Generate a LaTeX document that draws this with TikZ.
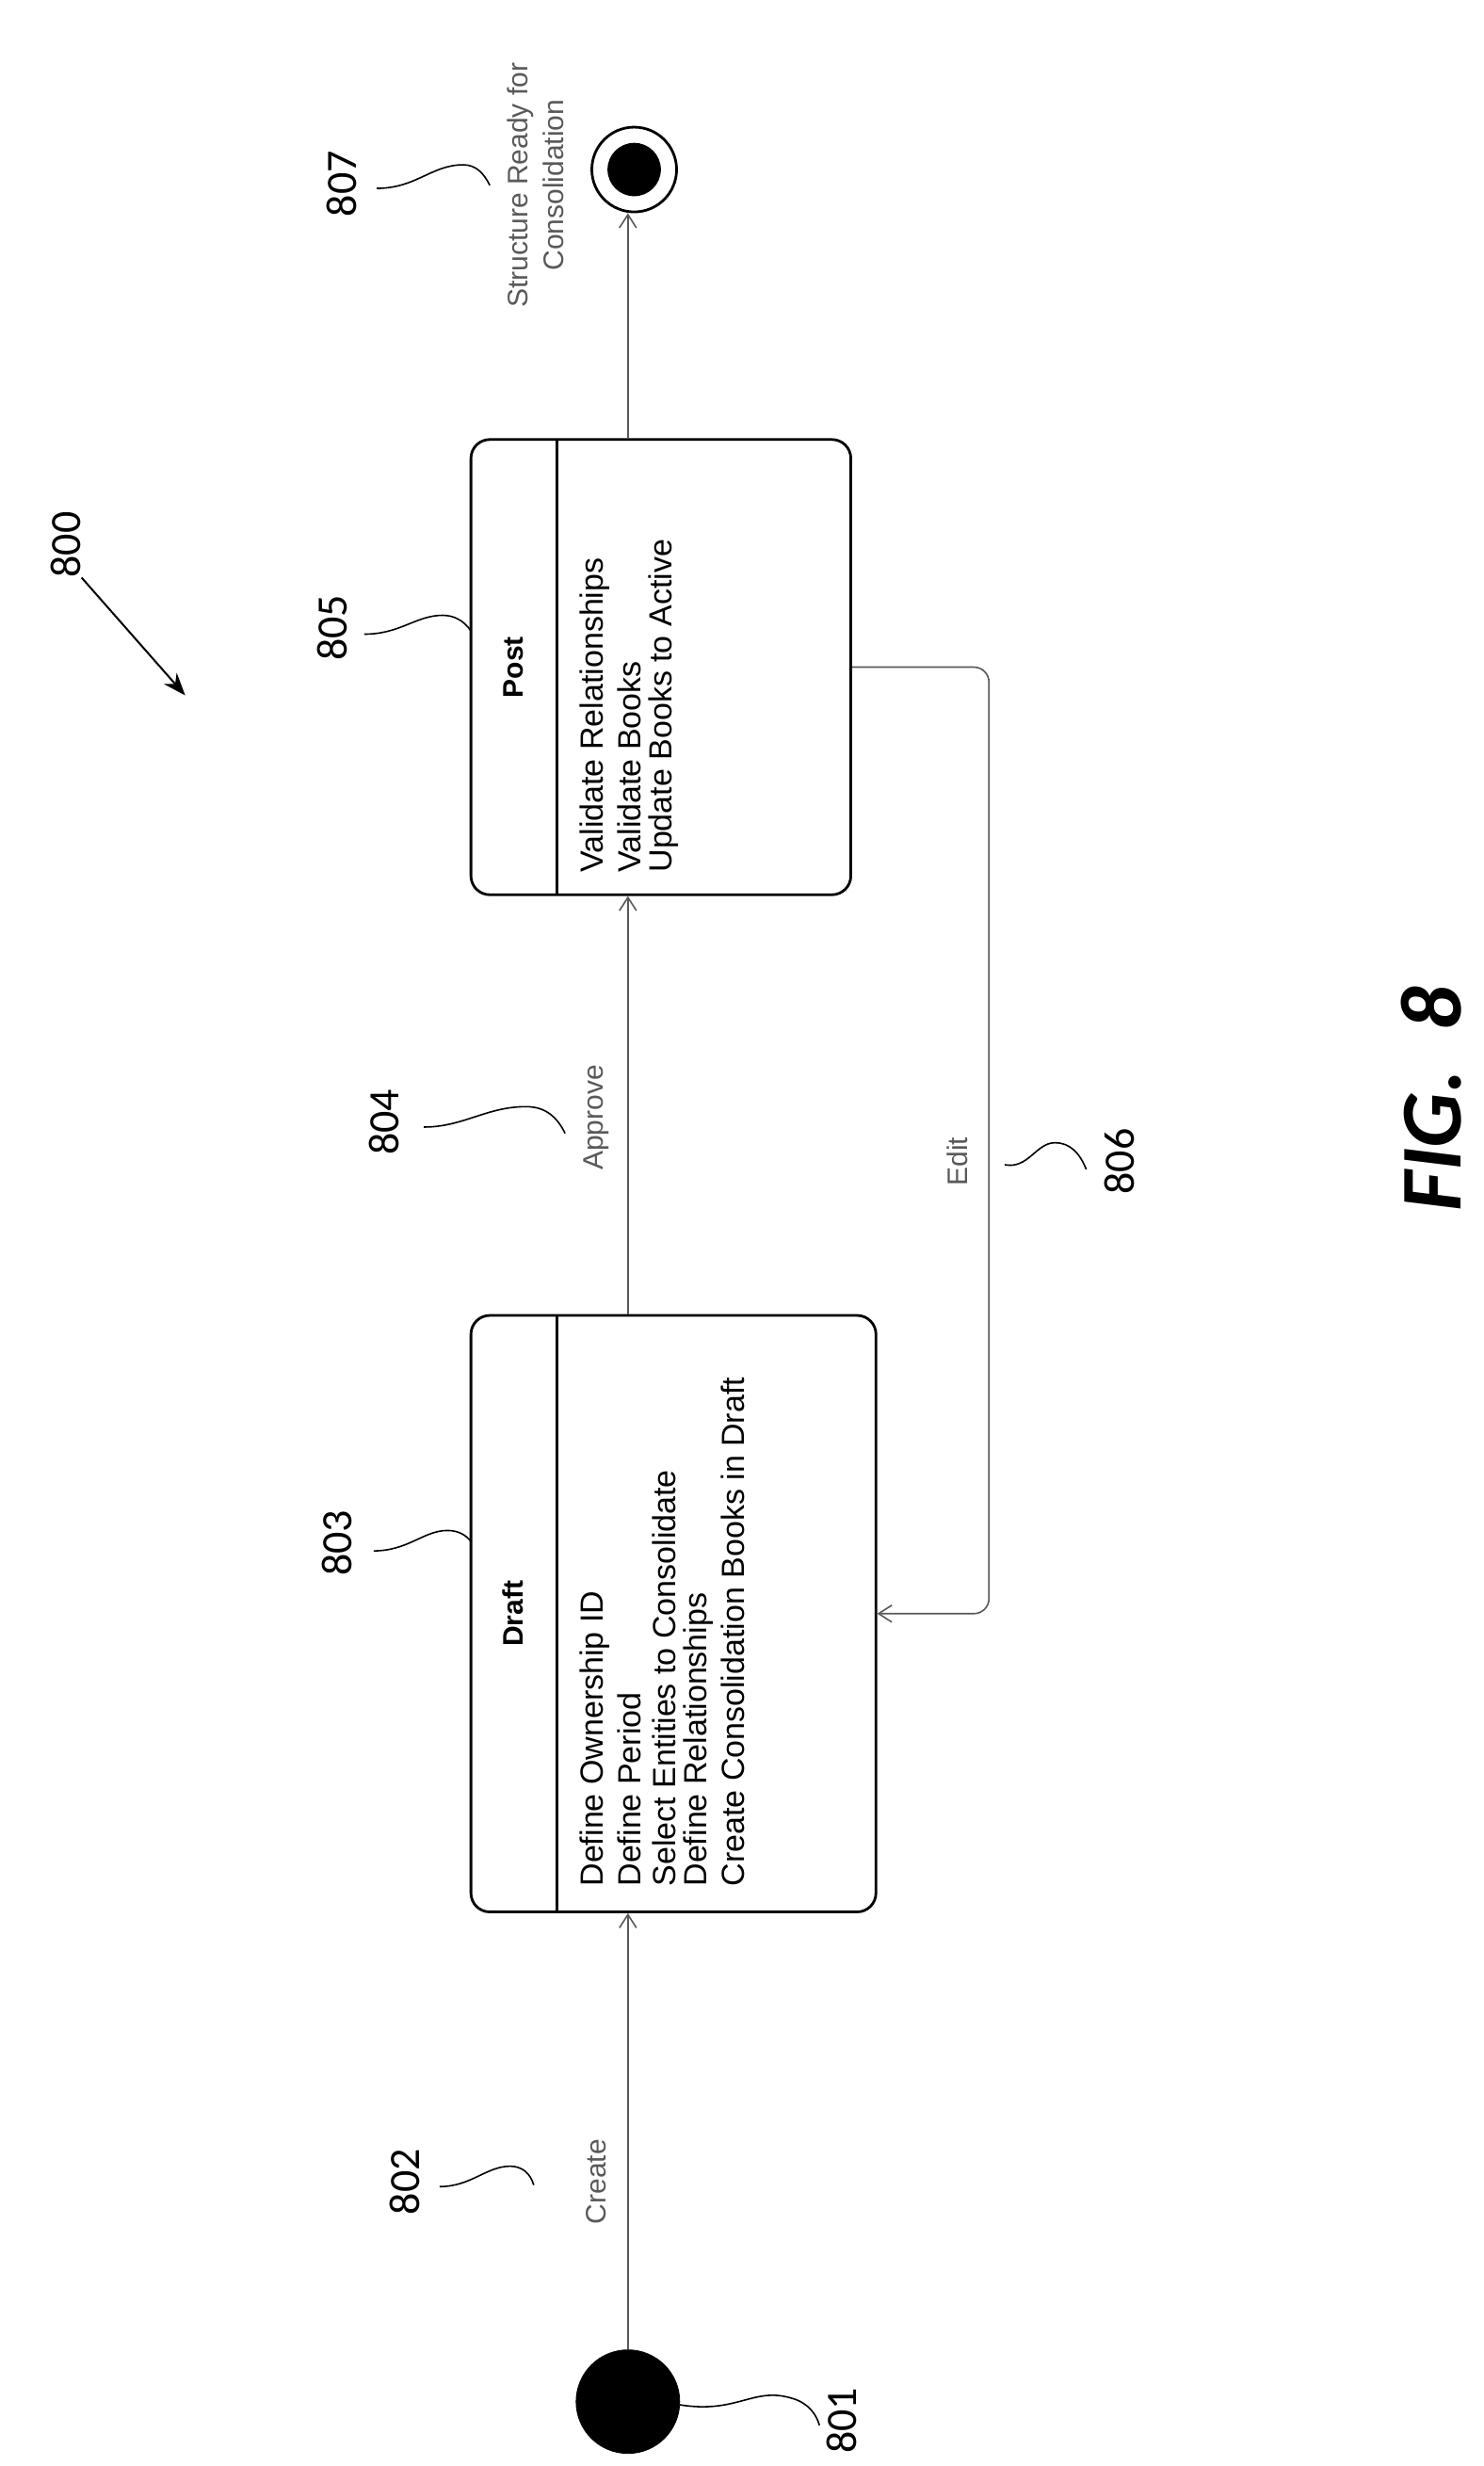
\documentclass[tikz,border=0pt]{standalone}
\usepackage{fontspec}
\setmainfont{Liberation Sans}
\newfontfamily\numfont{Carlito}
\usetikzlibrary{arrows.meta}
\begin{document}
\begin{tikzpicture}[x=0.8333pt,y=-0.8333pt,
  box/.style={draw,line width=1.4pt,rounded corners=10pt,inner sep=0pt},
  conn/.style={draw=black!65,line width=0.8pt,-{Straight Barb[length=7pt,width=9pt]}},
  item/.style={rotate=90,anchor=west,font=\fontsize{17}{19}\selectfont,inner sep=0pt},
  head/.style={rotate=90,font=\bfseries\fontsize{15}{17}\selectfont},
  glab/.style={rotate=90,text=black!65,font=\fontsize{15}{17}\selectfont},
  num/.style={rotate=90,font=\numfont\fontsize{23}{25}\selectfont},
  lead/.style={draw,line width=0.8pt}]
\useasboundingbox (0,0) rectangle (945,1571);
% boxes
\node[box,minimum width=258*0.8333pt,minimum height=380*0.8333pt] (draft) at (429,1028) {};
\node[box,minimum width=242*0.8333pt,minimum height=290*0.8333pt] (post) at (421,425) {};
\draw[line width=1.6pt] (355,838) -- (355,1218);
\draw[line width=1.6pt] (355,280) -- (355,570);
\node[head] (dh) at (327,1028) {Draft};
\node[head] (ph) at (327,425) {Post};
\node[item] (d1) at (379,1202) {Define Ownership ID};
\node[item] (d2) at (401,1202) {Define Period};
\node[item] (d3) at (423,1202) {Select Entities to Consolidate};
\node[item] (d4) at (445,1202) {Define Relationships};
\node[item] (d5) at (467,1202) {Create Consolidation Books in Draft};
\node[item] (p1) at (379,556) {Validate Relationships};
\node[item] (p2) at (401,556) {Validate Books};
\node[item] (p3) at (423,556) {Update Books to Active};
% start / end
\node[circle,fill=black,draw,minimum size=66*0.8333pt,inner sep=0pt] (start) at (400,1530) {};
\node[circle,draw,line width=1.4pt,minimum size=54*0.8333pt,inner sep=0pt] (end) at (404,108) {};
\fill (end.center) circle (17);
% connectors
\draw[conn] (start) -- (start |- draft.south);
\draw[conn] (start |- draft.north) -- (start |- post.south);
\draw[conn] (start |- post.north) -- (start |- end.south);
\coordinate (e1) at (630,425);
\coordinate (e2) at (630,1028);
\draw[conn,rounded corners=8pt] (post.east) -- (e1) -- (e2) -- (draft.east);
% labels
\node[glab] (create) at (380,1390) {Create};
\node[glab] (approve) at (380,712) {Approve};
\node[glab] (edit) at (610,740) {Edit};
\node[glab,align=center,font=\fontsize{15}{19}\selectfont] (ready) at (341,118) {Structure Ready for\\Consolidation};
% numerals
\node[num] (n800) at (42,347) {800};
\draw[line width=1pt,-{Stealth[length=12pt,width=9pt]}] (52,368) -- (118,443);
\node[num] (n801) at (536,1542) {801};
\draw[lead] (433,1532) .. controls (470,1538) and (480,1520) .. (505,1528) .. controls (515,1531) and (520,1538) .. (522,1545);
\node[num] (n802) at (258,1390) {802};
\draw[lead] (280,1393) .. controls (300,1393) and (310,1380) .. (325,1380) .. controls (333,1380) and (338,1385) .. (340,1392);
\node[num] (n803) at (215,983) {803};
\draw[lead] (238,988) .. controls (260,988) and (270,975) .. (285,975) .. controls (292,975) and (297,978) .. (300,982);
\node[num] (n804) at (245,715) {804};
\draw[lead] (270,718) .. controls (295,718) and (310,705) .. (335,705) .. controls (348,705) and (355,712) .. (360,722);
\node[num] (n805) at (212,400) {805};
\draw[lead] (232,404) .. controls (255,404) and (265,392) .. (282,392) .. controls (290,392) and (296,396) .. (300,402);
\node[num] (n806) at (713,740) {806};
\draw[lead] (640,742) .. controls (655,745) and (660,728) .. (672,728) .. controls (682,728) and (688,735) .. (692,745);
\node[num] (n807) at (218,117) {807};
\draw[lead] (240,120) .. controls (265,120) and (275,105) .. (295,105) .. controls (303,105) and (308,110) .. (312,118);
\node[rotate=90,font=\numfont\bfseries\itshape\fontsize{46}{50}\selectfont] (fig) at (912,700) {FIG.~~8};
\end{tikzpicture}
\end{document}
